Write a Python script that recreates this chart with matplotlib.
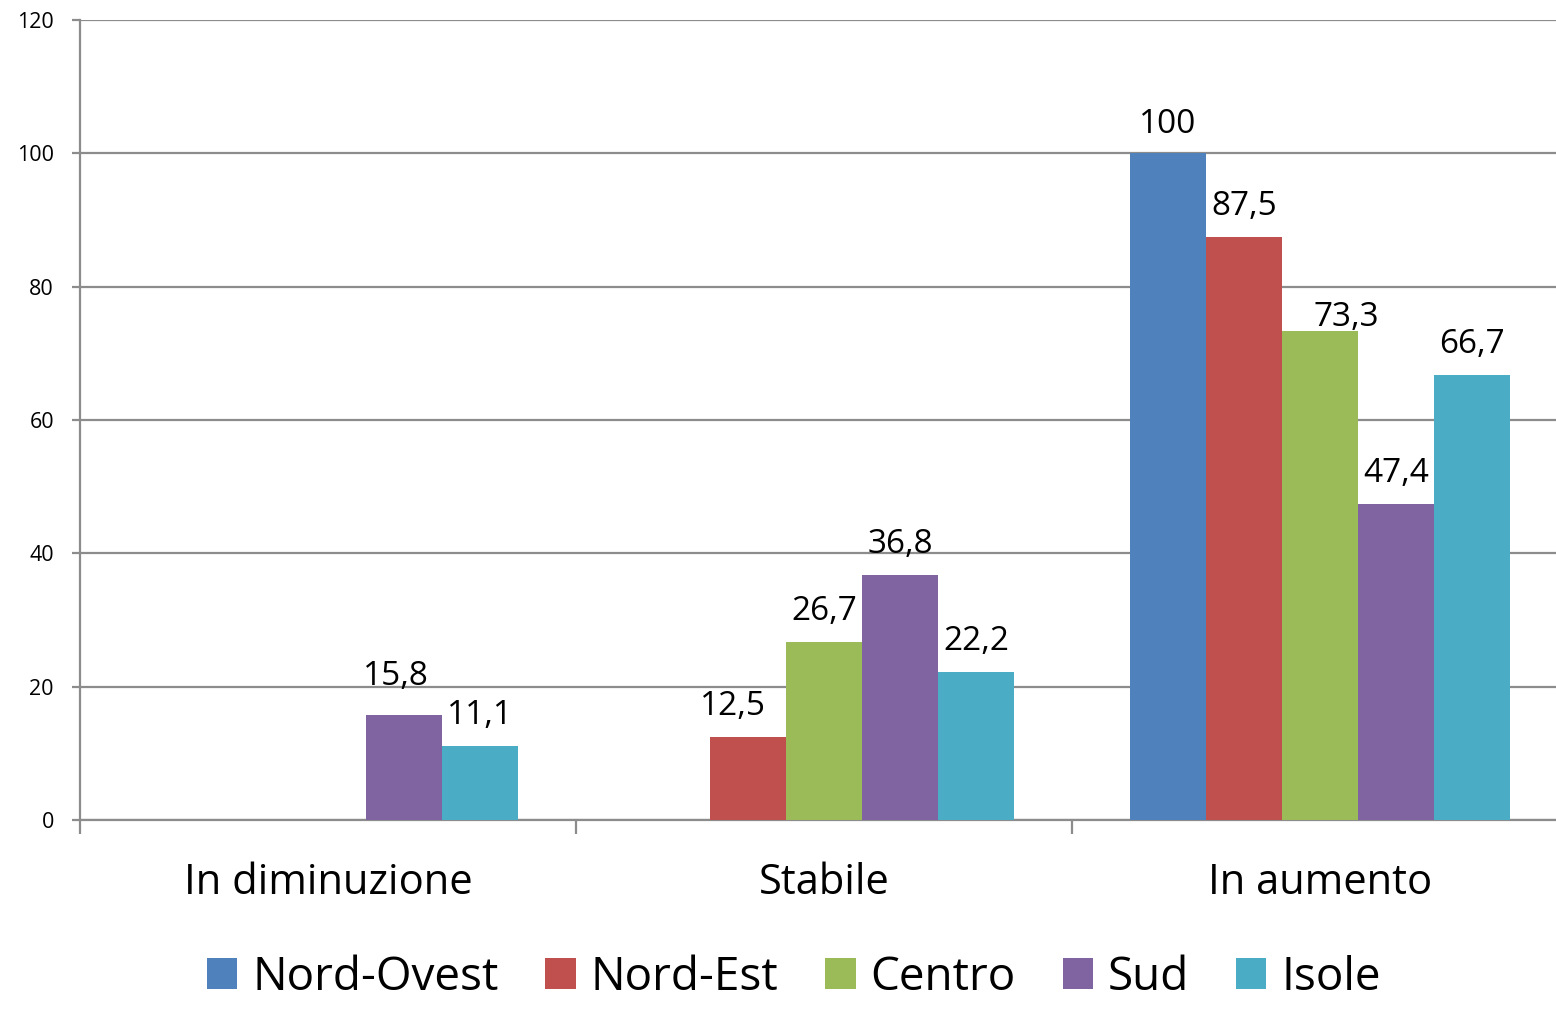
import matplotlib
matplotlib.use("Agg")
import matplotlib.pyplot as plt
import numpy as np
from matplotlib.patches import Patch

plt.rcParams['font.family'] = ['Open Sans', 'DejaVu Sans']

categories = ["In diminuzione", "Stabile", "In aumento"]
series = ["Nord-Ovest", "Nord-Est", "Centro", "Sud", "Isole"]
nord_ovest = [0, 0, 100]
nord_est = [0, 12.5, 87.5]
centro = [0, 26.7, 73.3]
sud = [15.8, 36.8, 47.4]
isole = [11.1, 22.2, 66.7]
values = [nord_ovest, nord_est, centro, sud, isole]
colors = ["#4F81BD", "#C0504D", "#9BBB59", "#8064A2", "#4BACC6"]
yticks = [0, 20, 40, 60, 80, 100, 120]

W, H, DPI = 1556, 1011, 100
PX = 72 / DPI  # points per pixel

# label nudges (dx, gap above bar top) in pixels, keyed by (series index, category index)
label_nudge = {(2, 2): (26, 5), (3, 0): (-8, 30), (1, 1): (-15, 22), (0, 2): (0, 20)}

fig = plt.figure(figsize=(W / DPI, H / DPI), dpi=DPI)
ax = fig.add_axes([80 / W, 1 - 820 / H, (1568 - 80) / W, 800 / H])

grid_c = "#8C8C8C"
bw = 0.1536
centers = np.arange(len(categories)) + 0.5
for k, (name, vals, c) in enumerate(zip(series, values, colors)):
    xs = centers + (k - 2) * bw
    ax.bar(xs, vals, width=bw, color=c, zorder=3, linewidth=0)
    for j, (x, v) in enumerate(zip(xs, vals)):
        if v > 0:
            dx, gap = label_nudge.get((k, j), (0, 22))
            txt = f"{v:g}".replace(".", ",")
            ax.annotate(txt, (x, v), xytext=(dx * PX, gap * PX), textcoords="offset points",
                        ha="center", va="baseline", fontsize=24, color="black", zorder=4)

ax.set_xlim(0, 3)
ax.set_ylim(0, 120)
ax.set_yticks(yticks)
ax.set_yticklabels([str(t) for t in yticks], fontsize=15.5)
ax.yaxis.grid(True, color=grid_c, linewidth=1.6, zorder=0)
ax.set_axisbelow(True)
ax.tick_params(axis="y", length=8 * PX, width=1.6, color=grid_c, pad=18 * PX)

ax.set_xticks([0, 1, 2, 3])
ax.set_xticklabels([])
ax.tick_params(axis="x", which="major", length=14 * PX, width=1.6, color=grid_c)
ax.set_xticks(centers, minor=True)
ax.set_xticklabels(categories, minor=True, fontsize=30)
ax.tick_params(axis="x", which="minor", length=0, pad=30)

for s in ["top", "right"]:
    ax.spines[s].set_visible(False)
for s in ["left", "bottom"]:
    ax.spines[s].set_color(grid_c)
    ax.spines[s].set_linewidth(1.6)

handles = [Patch(facecolor=c, label=n) for n, c in zip(series, colors)]
fig.legend(handles=handles, loc="center", bbox_to_anchor=(794 / W, 1 - 978 / H),
           ncol=5, frameon=False, fontsize=33, handlelength=0.66, handleheight=0.66,
           handletextpad=0.33, columnspacing=1.02, borderaxespad=0)

fig.savefig("out.png", dpi=DPI)
